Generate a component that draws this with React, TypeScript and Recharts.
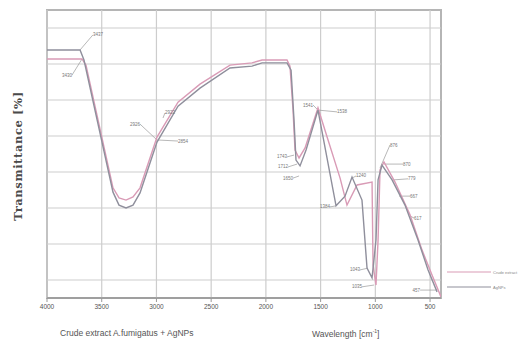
import React from 'react';
import {
  LineChart,
  Line,
  XAxis,
  YAxis,
  ReferenceLine,
  ReferenceDot,
  ReferenceArea,
} from 'recharts';

// wavenumber (cm-1) on x, transmittance on y
const crudeWn = [4000, 3680, 3644, 3397, 3342, 3278, 3214, 3150, 2995, 2803, 2602, 2328, 2127, 2035, 1807, 1780, 1752, 1734, 1697, 1642, 1524, 1432, 1322, 1259, 1167, 1030, 1021, 994, 975, 957, 921, 820, 683, 573, 482, 400];
const crudeT = [66.4, 66.4, 64.7, 30.6, 27.8, 27.2, 28.1, 30.6, 44.7, 54.4, 59.4, 64.7, 65.3, 66.1, 66.1, 64.4, 52.2, 41.1, 38.9, 41.7, 52.8, 43.9, 33.3, 25.8, 31.4, 32.2, 9.2, 3.6, 16.1, 35.6, 37.8, 32.2, 23.1, 13.3, 6.4, 0.3];

const agWn = [4000, 3698, 3662, 3397, 3342, 3278, 3214, 3150, 2995, 2803, 2602, 2328, 2127, 2035, 1807, 1770, 1743, 1725, 1688, 1633, 1524, 1359, 1277, 1213, 1122, 1076, 1030, 994, 975, 939, 847, 729, 610, 518, 436];
const agT = [68.9, 68.9, 66.1, 29.4, 25.8, 25.0, 25.8, 29.2, 43.3, 53.3, 58.3, 63.9, 64.4, 65.3, 65.3, 63.3, 49.4, 38.3, 36.7, 41.1, 52.2, 25.6, 28.3, 33.6, 27.2, 8.3, 5.6, 16.1, 32.8, 36.9, 32.8, 25.8, 16.1, 7.8, 1.7];

const xTicks = [4000, 3500, 3000, 2500, 2000, 1500, 1000, 500];
const xMinor = [3750, 3250, 2750, 2250, 1750, 1250, 750];
const yTicks = [5, 15, 25, 35, 45, 55, 65, 75];

// peak labels: peak point -> label point
const peakWn = [3698, 3680, 2995, 2995, 2940, 1743, 1715, 1697, 1524, 1524, 1359, 1213, 1067, 1012, 957, 921, 838, 783, 683, 436];
const peakT = [68.9, 66.4, 43.9, 43.9, 50.0, 39.7, 37.2, 33.9, 52.2, 52.2, 25.6, 33.3, 8.3, 3.6, 36.1, 37.2, 32.8, 28.3, 22.8, 2.2];
const labelWn = [3580, 3772, 3150, 2803, 2922, 1807, 1798, 1752, 1569, 1350, 1414, 1176, 1140, 1122, 866, 747, 701, 683, 646, 591];
const labelT = [73.1, 61.9, 48.3, 43.6, 51.4, 39.2, 36.4, 33.3, 53.6, 51.7, 25.3, 33.9, 7.8, 3.1, 42.5, 37.2, 33.1, 28.3, 22.2, 2.2];
const peakText = ['3437', '3430', '2926', '2854', '2922', '1743', '1712', '1650', '1541', '1538', '1384', '1240', '1043', '1035', '876', '870', '779', '667', '617', '457'];

const crude = crudeWn.map((wn, i) => ({ wn, t: crudeT[i] }));
const agnps = agWn.map((wn, i) => ({ wn, t: agT[i] }));

const PINK = '#d99bb6';
const GRAY = '#8f8f9c';

const PeakLabel = (props: any) => {
  const { cx, cy, text, anchor } = props;
  return (
    <text x={cx} y={cy} dy={1.5} fontSize={4.5} fill="#777" textAnchor={anchor} fontFamily="Liberation Sans, Arial">
      {text}
    </text>
  );
};

export default function App() {
  return (
    <div style={{ position: 'absolute', left: 0, top: 0, width: 527, height: 341, background: '#fff' }}>
      <LineChart width={527} height={341} margin={{ top: 10, right: 86, bottom: 23, left: 47 }}>
        <XAxis
          xAxisId="minor"
          type="number"
          dataKey="wn"
          domain={[400, 4000]}
          reversed
          ticks={xMinor}
          height={0}
          axisLine={false}
          tickSize={2}
          tickLine={{ stroke: '#999' }}
          tickFormatter={() => ''}
          allowDataOverflow
        />
        <XAxis
          type="number"
          dataKey="wn"
          domain={[400, 4000]}
          reversed
          ticks={xTicks}
          height={20}
          tickSize={4}
          axisLine={{ stroke: '#999', strokeWidth: 1.3 }}
          tickLine={{ stroke: '#999' }}
          tick={{ fontSize: 6.5, fill: '#555', fontFamily: 'Liberation Sans, Arial' }}
          allowDataOverflow
        />
        <YAxis type="number" domain={[0, 80]} ticks={yTicks} width={0} tick={false} axisLine={false} tickLine={false} />
        {xTicks.map((v) => (
          <ReferenceLine key={'gx' + v} x={v} stroke="#cdcdcd" strokeWidth={1.2} />
        ))}
        {yTicks.map((v) => (
          <ReferenceLine key={'gy' + v} y={v} stroke="#cdcdcd" strokeWidth={1.2} />
        ))}
        <ReferenceArea x1={4000} x2={400} y1={0} y2={80} fill="none" stroke="#b5b5b5" strokeWidth={2} />
        {peakWn.map((wn, i) => (
          <ReferenceLine
            key={'l' + i}
            segment={[{ x: wn, y: peakT[i] }, { x: labelWn[i], y: labelT[i] }]}
            stroke="#999"
            strokeWidth={0.7}
          />
        ))}
        {peakWn.map((wn, i) => (
          <ReferenceDot
            key={'d' + i}
            x={labelWn[i]}
            y={labelT[i]}
            r={0}
            shape={(p: any) => (
              <PeakLabel cx={p.cx} cy={p.cy} text={peakText[i]} anchor={labelWn[i] > wn ? 'end' : 'start'} />
            )}
          />
        ))}
        <Line data={crude} dataKey="t" type="linear" stroke={PINK} strokeWidth={1.4} dot={false} isAnimationActive={false} name="Crude extract A.fumigatus" />
        <Line data={agnps} dataKey="t" type="linear" stroke={GRAY} strokeWidth={1.4} dot={false} isAnimationActive={false} name="AgNPs" />
      </LineChart>
      <svg style={{ position: 'absolute', left: 447, top: 266 }} width={80} height={30}>
        <line x1={0} y1={6} x2={44} y2={6} stroke={PINK} strokeWidth={1.2} />
        <text x={46} y={7.5} fontSize={4} fill="#888" fontFamily="Liberation Sans, Arial">Crude extract</text>
        <line x1={0} y1={21} x2={44} y2={21} stroke={GRAY} strokeWidth={1.2} />
        <text x={46} y={22.5} fontSize={4} fill="#888" fontFamily="Liberation Sans, Arial">AgNPs</text>
      </svg>
      <div
        style={{
          position: 'absolute',
          left: 18,
          top: 156,
          transform: 'translate(-50%, -50%) rotate(-90deg)',
          whiteSpace: 'nowrap',
          fontFamily: 'DejaVu Serif, serif',
          fontWeight: 'bold',
          fontSize: 11.5,
          letterSpacing: 0.6,
          color: '#4a4a4a',
        }}
      >
        Transmittance [%]
      </div>
      <div style={{ position: 'absolute', left: 60, top: 328, fontFamily: 'Liberation Sans, Arial', fontSize: 8.5, color: '#555', whiteSpace: 'nowrap' }}>
        Crude extract A.fumigatus + AgNPs
      </div>
      <div style={{ position: 'absolute', left: 312, top: 328, fontFamily: 'Liberation Sans, Arial', fontSize: 8.5, color: '#555', whiteSpace: 'nowrap' }}>
        Wavelength [cm<sup style={{ fontSize: 5 }}>-1</sup>]
      </div>
    </div>
  );
}
